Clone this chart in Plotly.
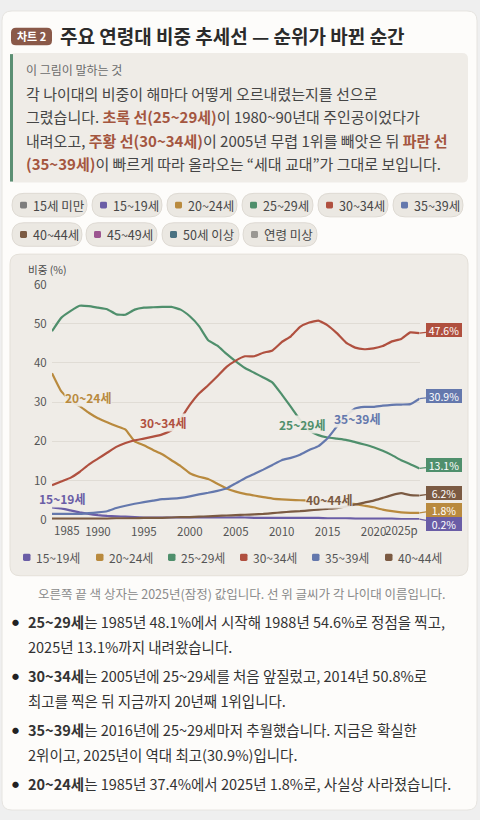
import plotly.graph_objects as go

W, H = 480, 820
FONT = "Noto Sans CJK KR"

years = list(range(1985, 2026))

age_15_19 = [3.2, 2.9, 2.4, 1.9, 1.5, 1.2, 1.0, 0.9, 0.8, 0.7, 0.6, 0.6, 0.6, 0.6,
             0.6, 0.6, 0.6, 0.6, 0.6, 0.6, 0.6, 0.6, 0.5, 0.5, 0.5, 0.5, 0.5, 0.5,
             0.5, 0.5, 0.4, 0.4, 0.4, 0.3, 0.3, 0.3, 0.3, 0.3, 0.2, 0.2, 0.2]
age_20_24 = [37.4, 32.8, 30.3, 29.0, 27.3, 25.9, 24.9, 23.9, 23.0, 20.0, 19.0, 17.8,
             16.7, 15.2, 13.7, 11.9, 11.0, 10.4, 9.2, 8.0, 7.2, 6.6, 6.2, 5.8, 5.4,
             5.2, 5.1, 5.0, 4.9, 4.8, 4.6, 4.5, 4.3, 4.0, 3.6, 3.2, 2.6, 2.2, 1.9,
             1.8, 1.8]
age_25_29 = [48.1, 51.5, 53.2, 54.6, 54.5, 54.1, 53.7, 52.4, 52.3, 53.6, 54.1, 54.2,
             54.3, 54.3, 53.6, 51.9, 49.4, 45.8, 44.4, 42.3, 40.4, 38.7, 37.5, 36.3,
             35.0, 32.0, 28.8, 25.5, 22.8, 21.6, 21.0, 20.7, 20.4, 19.8, 19.2, 18.5,
             17.6, 16.5, 15.2, 14.2, 13.1]
age_30_34 = [8.8, 9.8, 10.7, 12.2, 14.1, 15.6, 17.1, 18.6, 19.6, 20.3, 20.7, 21.2,
             21.8, 22.8, 25.8, 29.3, 32.2, 34.3, 36.6, 39.0, 40.6, 41.7, 41.7, 42.6,
             43.2, 45.3, 46.8, 49.2, 50.3, 50.8, 49.6, 47.6, 45.2, 43.9, 43.5, 43.7,
             44.3, 45.5, 46.1, 47.8, 47.6]
age_35_39 = [1.5, 1.5, 1.5, 1.5, 1.7, 1.9, 2.2, 3.0, 3.6, 4.1, 4.5, 4.9, 5.3, 5.4,
             5.6, 6.0, 6.5, 6.9, 7.4, 8.0, 9.3, 10.6, 11.7, 12.8, 14.0, 15.2, 15.8,
             16.6, 17.8, 18.8, 20.8, 23.8, 26.6, 28.4, 28.8, 28.8, 29.1, 29.3, 29.4,
             29.5, 30.9]
age_40_44 = [0.3, 0.3, 0.3, 0.3, 0.3, 0.3, 0.3, 0.4, 0.4, 0.4, 0.5, 0.5, 0.5, 0.6,
             0.7, 0.7, 0.8, 0.9, 1.0, 1.1, 1.2, 1.3, 1.4, 1.5, 1.7, 1.9, 2.1, 2.2,
             2.4, 2.6, 2.8, 3.0, 3.4, 3.9, 4.4, 4.9, 5.6, 6.3, 6.8, 6.3, 6.2]

series_names = ["15~19세", "20~24세", "25~29세", "30~34세", "35~39세", "40~44세"]
series_values = [age_15_19, age_20_24, age_25_29, age_30_34, age_35_39, age_40_44]
series_colors = ["#6a5da6", "#b98a3e", "#4f8f6c", "#b0503f", "#6478ad", "#7b5a42"]

pill_names = ["15세 미만", "15~19세", "20~24세", "25~29세", "30~34세", "35~39세",
              "40~44세", "45~49세", "50세 이상", "연령 미상"]
pill_colors = ["#7d7d7d", "#6a5da6", "#b98a3e", "#4f8f6c", "#b0503f", "#6478ad",
               "#7b5a42", "#9c5590", "#4a7282", "#9a9893"]

x_ticks = [1990, 1995, 2000, 2005, 2010, 2015, 2020]

# words written on the lines: (name, year, value)
line_labels = [("15~19세", 1986.1, 5.4), ("20~24세", 1988.9, 31.2),
               ("30~34세", 1997.1, 24.8), ("25~29세", 2012.2, 24.2),
               ("35~39세", 2018.2, 25.9), ("40~44세", 2015.2, 5.25)]


def px(x):
    return x / W


def py(y):
    return 1 - y / H


def rrect(x0, y0, x1, y1, r, fill, line=None, lw=1, layer="below"):
    p = (f"M{px(x0 + r)},{py(y0)} L{px(x1 - r)},{py(y0)} Q{px(x1)},{py(y0)} {px(x1)},{py(y0 + r)} "
         f"L{px(x1)},{py(y1 - r)} Q{px(x1)},{py(y1)} {px(x1 - r)},{py(y1)} "
         f"L{px(x0 + r)},{py(y1)} Q{px(x0)},{py(y1)} {px(x0)},{py(y1 - r)} "
         f"L{px(x0)},{py(y0 + r)} Q{px(x0)},{py(y0)} {px(x0 + r)},{py(y0)} Z")
    return dict(type="path", path=p, xref="paper", yref="paper", fillcolor=fill,
                line=dict(color=line or fill, width=lw if line else 0), layer=layer)


def text(x, y, s, size, color, anchor="left", bold=False):
    if bold:
        s = f"<b>{s}</b>"
    return dict(x=px(x), y=py(y), xref="paper", yref="paper", text=s, showarrow=False,
                xanchor=anchor, yanchor="middle", font=dict(size=size, color=color, family=FONT))


fig = go.Figure()

for name, vals, col in zip(series_names, series_values, series_colors):
    fig.add_trace(go.Scatter(x=years, y=vals, name=name, mode="lines",
                             line=dict(color=col, width=2.2, shape="spline", smoothing=0.35),
                             showlegend=False, hoverinfo="skip"))

shapes = []
ann = []

# card + title
shapes.append(rrect(2, 2, 477, 817, 10, "#fdfcfa", "#e6e4e0"))
shapes.append(rrect(11, 19, 52, 37, 5, "#8a5949"))
ann.append(text(31.5, 28, "차트 2", 11, "#ffffff", "center", True))
ann.append(text(58, 27, "주요 연령대 비중 추세선 — 순위가 바뀐 순간", 19, "#2b2b2b", bold=True))

# callout
shapes.append(rrect(10, 45, 468, 177, 6, "#efece7"))
shapes.append(dict(type="rect", xref="paper", yref="paper", x0=px(10), x1=px(13),
                   y0=py(46), y1=py(176), fillcolor="#5b8f73", line=dict(width=0), layer="below"))
HL = "#a4563f"
ann.append(text(24, 62, "이 그림이 말하는 것", 12, "#6b6b6b"))
callout = [
    "각 나이대의 비중이 해마다 어떻게 오르내렸는지를 선으로",
    f"그렸습니다. <b><span style='color:{HL}'>초록 선(25~29세)</span></b>이 1980~90년대 주인공이었다가",
    f"내려오고, <b><span style='color:{HL}'>주황 선(30~34세)</span></b>이 2005년 무렵 1위를 빼앗은 뒤 "
    f"<b><span style='color:{HL}'>파란 선</span></b>",
    f"<b><span style='color:{HL}'>(35~39세)</span></b>이 빠르게 따라 올라오는 “세대 교대”가 그대로 보입니다.",
]
for i, line in enumerate(callout):
    ann.append(text(24, 86 + 24 * i, line, 15, "#454545"))

# pills (colour key)
pill_pos = [(12, 87, 200), (92, 162, 200), (167, 237, 200), (242, 313, 200), (318, 388, 200),
            (393, 463, 200), (12, 82, 230), (86, 157, 230), (162, 239, 230), (243, 317, 230)]
for name, col, (x0, x1, yc) in zip(pill_names, pill_colors, pill_pos):
    shapes.append(rrect(x0, yc - 12, x1, yc + 12, 12, "#ebe8e2", "#dedad3"))
    shapes.append(rrect(x0 + 8, yc - 3.5, x0 + 15, yc + 3.5, 1.5, col))
    ann.append(text(x0 + 19, yc, name, 12.5, "#474747"))

# chart card
shapes.append(rrect(10, 250, 468, 578, 10, "#efece7", "#e4e0d9"))
ann.append(text(26, 266, "비중 (%)", 10.5, "#4a4a4a"))

# x tick ends pinned inside the plot
for yr, lab, anc in [(1985, "1985", "left"), (2025, "2025p", "right")]:
    ann.append(dict(x=yr, y=py(531), xref="x", yref="paper", text=lab, showarrow=False,
                    xanchor=anc, yanchor="middle", font=dict(size=11.5, color="#555", family=FONT)))

# words on the lines
col_of = dict(zip(series_names, series_colors))
for name, xv, yv in line_labels:
    ann.append(dict(x=xv, y=yv, xref="x", yref="y", text=f"<b>{name}</b>", showarrow=False,
                    font=dict(size=12, color=col_of[name], family=FONT),
                    bgcolor="rgba(239,236,231,0.9)", borderpad=0))

# end value boxes, nudged apart
ends = sorted([(v[-1], c) for v, c in zip(series_values, series_colors)], reverse=True)
prev = None
for val, col in ends:
    target = 521 - val * 4 - 3
    if prev is not None and target < prev + 14:
        target = prev + 14
    prev = target
    ann.append(dict(x=2025, y=val, xref="x", yref="y", text=f"{val}%", showarrow=True,
                    arrowhead=0, arrowwidth=1.3, arrowcolor=col, ax=24,
                    ay=target - (521 - val * 4), standoff=0,
                    bgcolor=col, bordercolor=col, borderpad=1, width=32, height=10,
                    font=dict(size=10.5, color="#ffffff", family=FONT)))

# chart legend
leg_x = [23, 96, 168, 240, 312, 385]
for name, col, lx in zip(series_names, series_colors, leg_x):
    shapes.append(rrect(lx, 555.5, lx + 7.5, 563, 1.5, col))
    ann.append(text(lx + 11, 559, name, 12, "#555555"))

# caption + bullets
ann.append(text(241, 596, "오른쪽 끝 색 상자는 2025년(잠정) 값입니다. 선 위 글씨가 각 나이대 이름입니다.",
                12.5, "#8a8a8a", "center"))
bullets = [
    ("25~29세", "는 1985년 48.1%에서 시작해 1988년 54.6%로 정점을 찍고,", "2025년 13.1%까지 내려왔습니다."),
    ("30~34세", "는 2005년에 25~29세를 처음 앞질렀고, 2014년 50.8%로", "최고를 찍은 뒤 지금까지 20년째 1위입니다."),
    ("35~39세", "는 2016년에 25~29세마저 추월했습니다. 지금은 확실한", "2위이고, 2025년이 역대 최고(30.9%)입니다."),
    ("20~24세", "는 1985년 37.4%에서 2025년 1.8%로, 사실상 사라졌습니다.", None),
]
by = 625
for head, rest, second in bullets:
    ann.append(text(10, by, "●", 7, "#222222"))
    ann.append(text(26, by, f"<b>{head}</b>{rest}", 14.5, "#333333"))
    if second:
        ann.append(text(26, by + 25, second, 14.5, "#333333"))
        by += 55
    else:
        by += 30

fig.update_layout(
    width=W, height=H, margin=dict(l=0, r=0, t=0, b=0),
    paper_bgcolor="#efefef", plot_bgcolor="rgba(0,0,0,0)",
    font=dict(family=FONT),
    shapes=shapes, annotations=ann, showlegend=False,
    xaxis=dict(domain=[px(52), px(419.5)], range=[1985, 2025], showgrid=False, zeroline=False,
               tickvals=x_ticks, ticktext=[str(t) for t in x_ticks], ticks="outside",
               ticklen=1, tickcolor="rgba(0,0,0,0)", tickfont=dict(size=11.5, color="#555")),
    yaxis=dict(domain=[py(521), py(281)], range=[0, 60], dtick=10, gridcolor="#e0dcd5",
               zeroline=False, ticks="outside", ticklen=2, tickcolor="rgba(0,0,0,0)",
               tickfont=dict(size=11.5, color="#555")),
)

fig.write_html("out.html", config={"displayModeBar": False},
               post_script="document.body.style.margin='0';")
